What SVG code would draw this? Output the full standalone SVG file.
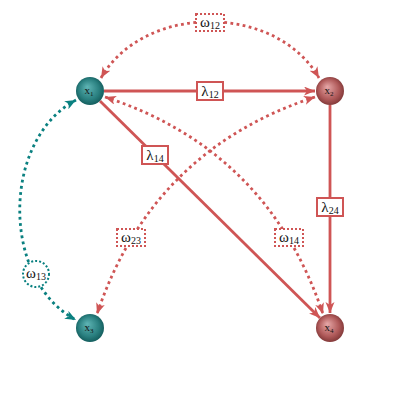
<svg xmlns="http://www.w3.org/2000/svg" width="420" height="420" viewBox="0 0 420 420">
<defs>
<radialGradient id="gT" cx="0.5" cy="0.5" r="0.6" fx="0.4" fy="0.35">
<stop offset="0" stop-color="#5fb5b5"/>
<stop offset="0.6" stop-color="#2a8080"/>
<stop offset="1" stop-color="#0a4e4e"/>
</radialGradient>
<radialGradient id="gR" cx="0.5" cy="0.5" r="0.6" fx="0.4" fy="0.35">
<stop offset="0" stop-color="#e6a8a8"/>
<stop offset="0.6" stop-color="#b05a5a"/>
<stop offset="1" stop-color="#6e2a2a"/>
</radialGradient>
<marker id="aR" markerUnits="userSpaceOnUse" markerWidth="12" markerHeight="10" refX="11" refY="4.5" orient="auto-start-reverse" viewBox="0 0 12 10">
<path d="M0,0 L11,4.5 L0,9 L3,4.5 z" fill="#cf5555"/>
</marker>
<marker id="aT" markerUnits="userSpaceOnUse" markerWidth="12" markerHeight="10" refX="11" refY="4.5" orient="auto-start-reverse" viewBox="0 0 12 10">
<path d="M0,0 L11,4.5 L0,9 L3,4.5 z" fill="#0a8080"/>
</marker>
</defs>
<style>
.s{fill:none;stroke:#cf5555;stroke-width:2.8}
.d{fill:none;stroke:#cf5555;stroke-width:2.8;stroke-dasharray:2.8 3.4}
.dt{fill:none;stroke:#0a8080;stroke-width:2.8;stroke-dasharray:2.8 3.4}
.box{fill:#fff;stroke:#cf5555;stroke-width:2}
.dbox{fill:#fff;stroke:#cf5555;stroke-width:2;stroke-dasharray:2 2}
.dtbox{fill:#fff;stroke:#0a8080;stroke-width:2;stroke-dasharray:2 2}
.lb{font-family:'Liberation Serif','DejaVu Serif',serif;font-size:15px;fill:#111;text-anchor:middle}
.sub{font-size:10px}
.nl{font-family:'Liberation Serif','DejaVu Serif',serif;font-size:11px;fill:#141414;text-anchor:middle}
</style>
<g id="connectors">
<path id="e12" class="s" d="M104,91 L315,91" marker-end="url(#aR)"/>
<path id="e24" class="s" d="M330,105 L330,313" marker-end="url(#aR)"/>
<path id="e14" class="s" d="M100,101 L320,318" marker-end="url(#aR)"/>
<path id="w12" class="d" d="M101,78 C144,3 276,3 319,78" marker-start="url(#aR)" marker-end="url(#aR)"/>
<path id="w14" class="d" d="M105,97 Q268,150 323,314" marker-start="url(#aR)" marker-end="url(#aR)"/>
<path id="w23" class="d" d="M315,97 Q152,150 97,314" marker-start="url(#aR)" marker-end="url(#aR)"/>
<path id="w13" class="dt" d="M76,100 C1,140 1,280 76,320" marker-start="url(#aT)" marker-end="url(#aT)"/>
</g>
<g id="label-l12"><rect class="box" x="197" y="82" width="26" height="18"/><text class="lb" x="210" y="96">λ<tspan class="sub" dy="2">12</tspan></text></g>
<g id="label-l24"><rect class="box" x="317" y="198" width="26" height="18"/><text class="lb" x="330" y="212">λ<tspan class="sub" dy="2">24</tspan></text></g>
<g id="label-l14"><rect class="box" x="142" y="146" width="26" height="18"/><text class="lb" x="155" y="160">λ<tspan class="sub" dy="2">14</tspan></text></g>
<g id="label-w12"><rect class="dbox" x="196" y="14" width="28" height="17"/><text class="lb" x="210" y="27">ω<tspan class="sub" dy="2">12</tspan></text></g>
<g id="label-w23"><rect class="dbox" x="117" y="229" width="28" height="17"/><text class="lb" x="131" y="242">ω<tspan class="sub" dy="2">23</tspan></text></g>
<g id="label-w14"><rect class="dbox" x="275" y="229" width="28" height="17"/><text class="lb" x="289" y="242">ω<tspan class="sub" dy="2">14</tspan></text></g>
<g id="label-w13"><circle class="dtbox" cx="36" cy="274" r="13"/><text class="lb" x="36" y="278">ω<tspan class="sub" dy="2">13</tspan></text></g>
<g id="x1"><circle cx="90" cy="91" r="14" fill="url(#gT)"/><text class="nl" x="89" y="94">x<tspan font-size="7" dy="2">1</tspan></text></g>
<g id="x2"><circle cx="330" cy="91" r="14" fill="url(#gR)"/><text class="nl" x="329" y="94">x<tspan font-size="7" dy="2">2</tspan></text></g>
<g id="x3"><circle cx="90" cy="328" r="14" fill="url(#gT)"/><text class="nl" x="89" y="331">x<tspan font-size="7" dy="2">3</tspan></text></g>
<g id="x4"><circle cx="330" cy="328" r="14" fill="url(#gR)"/><text class="nl" x="329" y="331">x<tspan font-size="7" dy="2">4</tspan></text></g>
</svg>
